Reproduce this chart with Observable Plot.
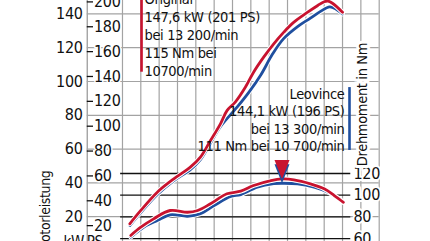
<!DOCTYPE html>
<html>
<head>
<meta charset="utf-8">
<script src="https://cdn.jsdelivr.net/npm/d3@7"></script>
<script src="https://cdn.jsdelivr.net/npm/@observablehq/plot@0.6"></script>
<style>
  html, body { margin: 0; padding: 0; background: white; overflow: hidden; }
  #chart { width: 430px; height: 241px; }
  #chart text { letter-spacing: -0.35px; }
</style>
</head>
<body>
<div id="chart"></div>
<script>
// ---- data ----
const origPowerRpm = [2400, 3000, 3900, 4800, 5700, 6250, 6800, 7350, 7700, 8150, 8700, 9150, 9700, 10250, 10800, 11350, 12100, 12650, 13000, 13200, 13450, 14000];
const origPowerKw  = [15.8, 23.7, 34.5, 42.4, 49.3, 55.2, 65.1, 75.1, 82.8, 87.8, 96.6, 105.5, 114.4, 122.3, 129.2, 135.1, 141.0, 145.0, 147.2, 147.6, 146.3, 141.0];

const leoPowerRpm = [2400, 3000, 3900, 4800, 5700, 6250, 6800, 7350, 8250, 8900, 9550, 10200, 10800, 11550, 12250, 12800, 13300, 13650, 14000];
const leoPowerKw  = [14.8, 22.5, 33.1, 41.4, 47.9, 53.8, 63.6, 73.4, 84.8, 93.7, 104.0, 116.5, 125.5, 132.5, 137.5, 141.5, 144.1, 142.8, 140.0];

const origTorqueRpm = [2450, 3000, 3700, 4600, 5550, 6100, 6800, 7700, 8450, 9150, 10100, 10700, 11350, 12250, 13000, 13550, 14050];
const origTorqueNm  = [62.9, 70.5, 78.2, 85.9, 84.3, 85.9, 92.1, 101.3, 103.7, 108.9, 113.5, 115.0, 114.2, 110.5, 105.9, 99.7, 93.5];

const leoTorqueRpm = [2450, 3150, 3900, 4600, 5550, 6250, 7000, 7900, 8450, 9350, 10250, 10700, 11550, 12450, 13200, 14050];
const leoTorqueNm  = [61.3, 70.5, 76.7, 81.9, 80.6, 82.9, 90.5, 98.8, 100.6, 107.4, 110.6, 111.0, 110.5, 107.4, 102.8, 93.5];

const peakTorqueRpm = [10700];
const peakTorqueOrig = [115];
const peakTorqueLeo = [111];

const kwTicks = [20, 40, 60, 80, 100, 120, 140];
const psTicks = [20, 40, 60, 80, 100, 120, 140, 160, 180, 200];
const nmTicks = [60, 80, 100, 120];
const gridRpm = [2000, 3000, 4000, 5000, 6000, 7000, 8000, 9000, 10000, 11000, 12000, 13000, 14000, 15000, 16000];
const gridKw = [0, 20, 40, 60, 80, 100, 120, 140];

const origLabel = ["Original", "147,6 kW (201 PS)", "bei 13 200/min", "115 Nm bei", "10700/min"];
const leoLabel = ["Leovince", "144,1 kW (196 PS)", "bei 13 300/min", "111 Nm bei 10 700/min"];
const powerTitle = "Motorleistung";
const torqueTitle = "Drehmoment in Nm";
const unitLabels = ["kW", "PS"];

// ---- helpers: secondary axes expressed on the kW scale ----
const psToKw = ps => ps * 0.7355;
const nmToKw = d3.scaleLinear([60, 120], [7.04, 45.56]);

const RED = "#c8132f";
const BLUE = "#1f4f9f";
const GRID = "#a3a3a3";
const INK = "#111";
const FONT = "'Liberation Sans Narrow', 'DejaVu Sans Condensed', 'Roboto', sans-serif";

const zip = (xs, ys) => xs.map((x, i) => ({x, y: ys[i]}));
const origPower = zip(origPowerRpm, origPowerKw);
const leoPower = zip(leoPowerRpm, leoPowerKw);
const origTorque = zip(origTorqueRpm, origTorqueNm.map(nmToKw));
const leoTorque = zip(leoTorqueRpm, leoTorqueNm.map(nmToKw));

const downTriangle = {
  draw(ctx) {
    ctx.moveTo(-7.5, -19);
    ctx.lineTo(7.5, -19);
    ctx.lineTo(0, 0);
    ctx.closePath();
  }
};

const curve = (data, color) => [
  Plot.line(data, {x: "x", y: "y", curve: "catmull-rom", stroke: "white", strokeWidth: 4.8}),
  Plot.line(data, {x: "x", y: "y", curve: "catmull-rom", stroke: color, strokeWidth: 2.8})
];

const chart = Plot.plot({
  width: 430,
  height: 241,
  margin: 0,
  style: {fontFamily: FONT, overflow: "hidden", background: "white", color: INK},
  x: {domain: [0, 16000], range: [85.3, 378.7], axis: null},
  y: {domain: [0, 150], range: [250, -3.5], axis: null},
  marks: [
    // grey grid
    Plot.ruleX(gridRpm, {y1: -10, y2: 160, stroke: GRID, strokeWidth: 1.2}),
    Plot.ruleX([80], {y1: -10, y2: 160, stroke: GRID, strokeWidth: 1.4}),
    Plot.ruleY(gridKw, {x1: 80, x2: 16000, stroke: GRID, strokeWidth: 1.2}),
    // torque gridlines (black)
    Plot.ruleY(nmTicks, {y: d => nmToKw(d), x1: 1900, x2: 14450, stroke: INK, strokeWidth: 1.3}),
    // PS ticks
    Plot.ruleY(psTicks, {y: d => psToKw(d), x1: 80, x2: 420, stroke: INK, strokeWidth: 1.3}),
    // legend bars
    Plot.ruleX([3040], {y1: 150, y2: 105.5, stroke: RED, strokeWidth: 2.6}),
    Plot.ruleX([14380], {y1: 96.4, y2: 59.2, stroke: BLUE, strokeWidth: 2.6}),
    // curves
    ...curve(leoPower, BLUE),
    ...curve(origPower, RED),
    ...curve(leoTorque, BLUE),
    ...curve(origTorque, RED),
    // peak torque marker
    Plot.dot(peakTorqueRpm, {x: d => d, y: (d, i) => nmToKw(peakTorqueLeo[i]), symbol: downTriangle, fill: BLUE, stroke: "none"}),
    Plot.dot(peakTorqueRpm, {x: d => d, y: (d, i) => nmToKw(peakTorqueOrig[i]), symbol: downTriangle, fill: RED, stroke: "none"}),
    // left kW labels
    Plot.text(kwTicks, {x: -180, y: d => d, text: d => String(d), textAnchor: "end", fontSize: 16, fill: INK}),
    // left PS labels
    Plot.text(psTicks, {x: 450, y: d => psToKw(d), text: d => String(d), textAnchor: "start", fontSize: 16, fill: INK, stroke: "white", strokeWidth: 3}),
    // right Nm labels
    Plot.text(nmTicks, {x: 14600, y: d => nmToKw(d), text: d => String(d), textAnchor: "start", fontSize: 16, fill: INK, stroke: "white", strokeWidth: 4}),
    // axis titles
    Plot.text([powerTitle], {x: -2210, y: (250 - 170) / 1.69, rotate: -90, textAnchor: "end", fontSize: 14, fill: INK}),
    Plot.text([torqueTitle], {x: 15100, y: (250 - 104) / 1.69, rotate: -90, textAnchor: "middle", fontSize: 14.5, fill: INK, stroke: "white", strokeWidth: 6}),
    Plot.text([unitLabels[0]], {x: -100, y: 4.7, textAnchor: "end", fontSize: 15, fill: INK}),
    Plot.text([unitLabels[1]], {x: 50, y: 4.7, textAnchor: "start", fontSize: 15, fill: INK}),
    // annotations
    Plot.text([origLabel.join("\n")], {x: 3200, y: 153.3, textAnchor: "start", lineAnchor: "top", lineHeight: 1.24, fontSize: 14.5, fill: INK}),
    Plot.text([leoLabel.join("\n")], {x: 14110, y: 97.0, textAnchor: "end", lineAnchor: "top", lineHeight: 1.2, fontSize: 14.5, fill: INK})
  ]
});

document.getElementById("chart").appendChild(chart);
</script>
</body>
</html>
